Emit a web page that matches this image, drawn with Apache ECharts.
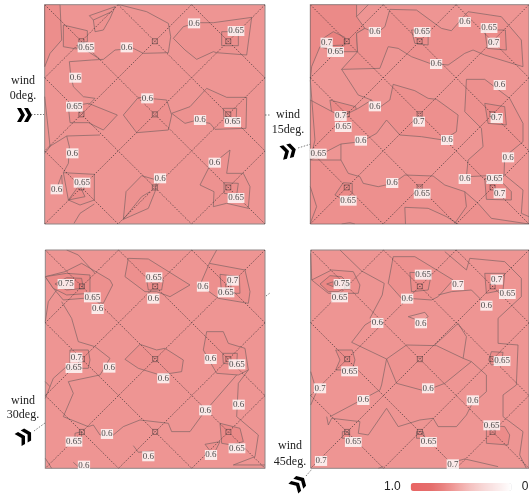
<!DOCTYPE html>
<html>
<head>
<meta charset="utf-8">
<style>html,body{margin:0;padding:0;background:#fff}#chart{width:529px;height:497px}</style>
<script src="https://cdn.jsdelivr.net/npm/echarts@6/dist/echarts.min.js"></script>
</head>
<body>
<div id="chart"></div>
<script>
// pressure coefficient contours, one panel per wind angle
// panel coordinates are read off the picture, y grows downwards
const colorStops = ['#ffffff', '#fcf0f0', '#f9e2e2', '#f7d4d3', '#f5c3c2', '#f2adab', '#ee9492', '#e87f7d', '#e56e6c', '#e7696a', '#ea6461']

const panelAExtent = [134, 795, 14, 672]
const panelBExtent = [136, 793, 14, 672]
const panelCExtent = [136, 795, 45, 700]
const panelDExtent = [137, 793, 45, 700]

// closed regions: [value, outline]
const panelAZones = [
  [0.63, [[134, 14], [180, 14], [185, 120], [150, 160], [134, 200]]],
  [0.61, [[268, 47], [345, 20], [330, 55], [310, 90], [285, 95], [280, 60]]],
  [0.63, [[190, 75], [262, 92], [262, 125], [235, 130], [230, 147], [190, 140]]],
  [0.61, [[520, 115], [550, 80], [590, 68], [640, 68], [755, 52], [740, 165], [650, 158], [640, 155], [590, 178], [555, 150]]],
  [0.63, [[665, 95], [715, 95], [715, 137], [665, 137]]],
  [0.62, [[205, 320], [265, 310], [352, 345], [310, 390], [265, 368], [210, 368]]],
  [0.62, [[370, 345], [415, 292], [500, 300], [515, 345], [505, 390], [410, 398]]],
  [0.61, [[515, 340], [570, 320], [620, 265], [680, 292], [740, 292], [738, 385], [645, 388], [630, 370], [585, 362], [555, 370]]],
  [0.63, [[670, 325], [710, 325], [708, 368], [672, 355]]],
  [0.61, [[690, 450], [680, 520], [730, 520], [750, 560], [745, 625], [680, 610], [640, 620], [642, 575], [600, 555], [628, 500]]],
  [0.63, [[672, 548], [715, 550], [710, 585], [672, 580]]],
  [0.61, [[425, 527], [470, 540], [465, 575], [445, 625], [370, 658], [378, 575]]],
  [0.61, [[190, 518], [283, 523], [283, 600], [240, 615], [205, 600]]],
  [0.64, [[205, 600], [238, 555], [255, 590]]]
]
const panelAContours = [
  [[280, 60], [335, 35]],
  [[358, 14], [440, 35], [505, 70], [512, 110], [505, 158], [430, 160], [400, 145], [345, 150], [310, 178], [275, 180], [208, 185], [212, 225], [220, 260], [250, 290], [285, 295], [265, 315]],
  [[235, 130], [250, 145], [300, 178]],
  [[148, 440], [200, 408], [300, 405]],
  [[200, 408], [208, 440], [205, 490], [190, 518]],
  [[134, 290], [148, 420], [150, 440], [134, 460]],
  [[172, 560], [185, 525], [188, 575]],
  [[222, 670], [240, 640], [283, 612]],
  [[370, 658], [425, 590], [450, 575]]
]
const panelALabels = [
  ['0.6', 582, 70], ['0.65', 708, 93], ['0.65', 258, 142], ['0.6', 380, 142], ['0.6', 226, 233],
  ['0.6', 442, 295], ['0.65', 223, 320], ['0.6', 600, 360], ['0.65', 698, 366], ['0.6', 217, 460],
  ['0.6', 644, 488], ['0.65', 246, 548], ['0.6', 480, 535], ['0.6', 170, 568], ['0.65', 708, 594]
]

const panelBZones = [
  [0.65, [[136, 14], [275, 14], [275, 50], [300, 85], [275, 100], [278, 155], [215, 155], [165, 140], [140, 200], [136, 240]]],
  [0.69, [[170, 118], [205, 95], [240, 112], [240, 135], [170, 138]]],
  [0.62, [[375, 28], [455, 30], [530, 85], [560, 92], [610, 35], [710, 50], [770, 120], [775, 200], [660, 165], [625, 150], [600, 160], [550, 195], [495, 190], [440, 170], [400, 145], [370, 140], [345, 205], [230, 208], [278, 155], [275, 100], [300, 85], [335, 100], [360, 80]]],
  [0.64, [[440, 90], [490, 90], [490, 135], [450, 130]]],
  [0.64, [[660, 90], [722, 90], [725, 150], [668, 145]]],
  [0.65, [[195, 300], [272, 320], [280, 350], [240, 385], [205, 375]]],
  [0.62, [[385, 253], [450, 272], [490, 295], [515, 298], [580, 345], [575, 395], [535, 420], [470, 410], [405, 405], [365, 360], [335, 400], [290, 425], [228, 432], [136, 480], [136, 300], [230, 350], [280, 325], [320, 300], [340, 325], [375, 300]]],
  [0.62, [[605, 238], [660, 238], [735, 295], [775, 370], [775, 425], [720, 470], [718, 525], [605, 530], [610, 480], [655, 440], [650, 385], [600, 335]]],
  [0.65, [[660, 310], [720, 320], [725, 375], [670, 370]]],
  [0.62, [[136, 480], [228, 480], [250, 520], [285, 530], [295, 550], [340, 560], [385, 550], [420, 525], [505, 528], [540, 555], [600, 575], [640, 610], [680, 655], [793, 672], [136, 672]]],
  [0.65, [[660, 535], [710, 545], [740, 575], [740, 600], [665, 598]]],
  [0.65, [[210, 585], [235, 548], [262, 550], [262, 580], [235, 600]]],
  [0.6, [[420, 622], [490, 625], [545, 650], [580, 672], [422, 672]]]
]
const panelBContours = [
  [[275, 50], [310, 14]],
  [[230, 208], [280, 285], [320, 300]],
  [[228, 432], [228, 480]],
  [[720, 525], [775, 570], [770, 640], [793, 650]],
  [[600, 575], [605, 620], [570, 670]],
  [[136, 560], [155, 620], [136, 670]],
  [[230, 672], [255, 668], [270, 672]],
  [[136, 240], [150, 420], [136, 480]]
]
const panelBLabels = [
  ['0.6', 330, 96], ['0.65', 472, 96], ['0.6', 600, 66], ['0.65', 673, 84], ['0.7', 687, 128], ['0.7', 185, 128],
  ['0.65', 212, 156], ['0.6', 514, 192], ['0.6', 705, 255], ['0.6', 330, 319], ['0.7', 227, 348], ['0.65', 235, 381],
  ['0.7', 696, 354], ['0.7', 462, 365], ['0.6', 288, 422], ['0.6', 547, 420], ['0.65', 160, 461], ['0.6', 730, 472],
  ['0.6', 600, 537], ['0.65', 690, 537], ['0.6', 382, 549], ['0.65', 472, 581], ['0.7', 705, 580], ['0.65', 250, 602]
]

const panelCZones = [
  [0.62, [[136, 125], [195, 110], [245, 85], [330, 135], [338, 150], [310, 205], [250, 190], [190, 195], [160, 160]]],
  [0.65, [[136, 125], [200, 115], [270, 120], [270, 175], [200, 180], [160, 160]]],
  [0.7, [[165, 147], [200, 128], [245, 130], [250, 160], [200, 165]]],
  [0.62, [[385, 70], [445, 72], [570, 150], [510, 185], [470, 170], [435, 170], [375, 125]]],
  [0.64, [[440, 135], [490, 135], [485, 165], [445, 165]]],
  [0.62, [[628, 85], [735, 105], [750, 170], [745, 205], [655, 190], [600, 150]]],
  [0.64, [[660, 118], [718, 125], [720, 175], [665, 175]]],
  [0.64, [[210, 345], [265, 345], [270, 375], [265, 400], [210, 400]]],
  [0.62, [[375, 373], [420, 328], [470, 345], [495, 340], [550, 375], [545, 410], [480, 420], [415, 400]]],
  [0.62, [[620, 290], [670, 290], [685, 325], [735, 340], [745, 405], [715, 420], [650, 415], [610, 345]]],
  [0.64, [[668, 355], [712, 355], [710, 390], [670, 385]]],
  [0.65, [[660, 565], [720, 580], [730, 620], [695, 630], [665, 625]]],
  [0.64, [[225, 595], [245, 590], [245, 615], [225, 615]]],
  [0.62, [[615, 628], [660, 620], [640, 660]]]
]
const panelCContours = [
  [[200, 45], [235, 60], [285, 115]],
  [[185, 200], [215, 250], [235, 320], [285, 335], [330, 370], [300, 420], [205, 440], [220, 475], [190, 545], [265, 575], [280, 570], [300, 600], [340, 600], [370, 575], [420, 555], [505, 565], [515, 590], [570, 590], [610, 535], [710, 420]],
  [[170, 165], [145, 200], [136, 260]],
  [[628, 85], [650, 45]],
  [[745, 405], [715, 445], [710, 545], [775, 600], [765, 665], [700, 690], [795, 690]],
  [[400, 632], [415, 652], [460, 648]],
  [[220, 682], [240, 700]],
  [[136, 670], [155, 700]],
  [[136, 490], [160, 430], [205, 390]],
  [[136, 440], [150, 455]]
]
const panelCLabels = [
  ['0.75', 198, 147], ['0.65', 277, 187], ['0.6', 293, 222], ['0.65', 462, 127], ['0.6', 460, 191], ['0.6', 609, 155],
  ['0.7', 698, 137], ['0.65', 678, 172], ['0.7', 229, 368], ['0.65', 222, 399], ['0.6', 328, 398], ['0.6', 632, 372],
  ['0.65', 711, 388], ['0.6', 490, 430], ['0.6', 716, 509], ['0.6', 616, 526], ['0.6', 321, 597], ['0.65', 222, 620],
  ['0.65', 711, 640], ['0.6', 445, 664], ['0.6', 633, 660], ['0.6', 252, 692]
]

const panelDZones = [
  [0.62, [[140, 135], [200, 105], [265, 110], [285, 150], [280, 175], [190, 175]]],
  [0.66, [[165, 147], [195, 122], [230, 125], [255, 150], [220, 170], [190, 170]]],
  [0.72, [[185, 147], [205, 140], [205, 155]]],
  [0.62, [[385, 65], [450, 65], [565, 135], [520, 185], [500, 195], [430, 190], [410, 190], [370, 145]]],
  [0.64, [[435, 112], [500, 115], [490, 165], [440, 170]]],
  [0.64, [[660, 115], [720, 115], [715, 165], [665, 175]]],
  [0.64, [[212, 345], [262, 345], [270, 375], [262, 405], [212, 405], [225, 375]]],
  [0.64, [[680, 350], [715, 352], [710, 385], [680, 390], [672, 375]]],
  [0.64, [[665, 570], [720, 575], [735, 600], [730, 630], [665, 625]]],
  [0.57, [[430, 245], [480, 232], [490, 245], [470, 260]]],
  [0.64, [[455, 590], [475, 590], [480, 610], [455, 610]]],
  [0.64, [[232, 590], [250, 590], [255, 610], [232, 610]]],
  [0.61, [[365, 372], [425, 330], [515, 332], [595, 370], [620, 380], [540, 445], [480, 468], [395, 445]]]
]
const panelDContours = [
  [[225, 45], [290, 108], [358, 145], [352, 180], [315, 250]],
  [[137, 55], [140, 135]],
  [[540, 50], [605, 105], [615, 70], [720, 80], [770, 130], [770, 185], [700, 250], [700, 325], [760, 330], [755, 450], [715, 480], [715, 545], [775, 590], [765, 660], [785, 700]],
  [[520, 180], [560, 170], [620, 165], [650, 195]],
  [[260, 322], [300, 270], [325, 255], [355, 265]],
  [[260, 322], [365, 372], [350, 450], [345, 465]],
  [[620, 380], [665, 420], [665, 470], [620, 510], [605, 540], [575, 575], [520, 575], [505, 550]],
  [[595, 370], [605, 305], [580, 265], [510, 330]],
  [[195, 545], [280, 500], [345, 465]],
  [[185, 545], [190, 570], [200, 550], [285, 560], [280, 595], [310, 600], [365, 520], [400, 575], [465, 555], [505, 550]],
  [[137, 410], [155, 470], [137, 510]],
  [[570, 680], [600, 672], [700, 695]],
  [[355, 695], [340, 700]]
]
const panelDLabels = [
  ['0.75', 231, 147], ['0.65', 224, 187], ['0.65', 475, 119], ['0.7', 579, 150], ['0.7', 696, 134], ['0.65', 728, 177],
  ['0.6', 427, 191], ['0.6', 665, 212], ['0.6', 337, 264], ['0.6', 468, 265], ['0.65', 712, 378], ['0.65', 254, 409],
  ['0.7', 165, 460], ['0.6', 490, 460], ['0.6', 295, 495], ['0.6', 624, 496], ['0.65', 681, 571], ['0.65', 265, 621],
  ['0.65', 491, 621], ['0.7', 168, 678], ['0.7', 564, 688]
]

// roof ridge lines as fractions of the panel side
const ridgeLines = [
  [[0, 0], [1, 1]], [[1 / 3, 0], [1, 2 / 3]], [[2 / 3, 0], [1, 1 / 3]], [[0, 1 / 3], [2 / 3, 1]], [[0, 2 / 3], [1 / 3, 1]],
  [[1, 0], [0, 1]], [[1 / 3, 0], [0, 1 / 3]], [[2 / 3, 0], [0, 2 / 3]], [[1, 1 / 3], [1 / 3, 1]], [[1, 2 / 3], [2 / 3, 1]]
]
const nodeFractions = [1 / 6, 1 / 2, 5 / 6]

const panels = [
  { extent: panelAExtent, zones: panelAZones, contours: panelAContours, labels: panelALabels, grid: { left: 44.7, top: 4.7, width: 220.3, height: 219.3 } },
  { extent: panelBExtent, zones: panelBZones, contours: panelBContours, labels: panelBLabels, grid: { left: 310.3, top: 4.7, width: 219, height: 219.3 } },
  { extent: panelCExtent, zones: panelCZones, contours: panelCContours, labels: panelCLabels, grid: { left: 45.3, top: 250, width: 219.7, height: 218.3 } },
  { extent: panelDExtent, zones: panelDZones, contours: panelDContours, labels: panelDLabels, grid: { left: 310.7, top: 250, width: 218.6, height: 218.3 } }
]

const LINE = '#806464'
const grids = []
const xAxes = []
const yAxes = []
const series = []
const zoneSeries = []

panels.forEach((panel, i) => {
  const [x0, x1, y0, y1] = panel.extent
  const toPanel = ([fx, fy]) => [x0 + fx * (x1 - x0), y0 + fy * (y1 - y0)]
  grids.push({ ...panel.grid, show: true, backgroundColor: '#ee9593', borderColor: '#8f8585', borderWidth: 1 })
  xAxes.push({ gridIndex: i, type: 'value', min: x0, max: x1, show: false })
  yAxes.push({ gridIndex: i, type: 'value', min: y0, max: y1, inverse: true, show: false })

  const base = { xAxisIndex: i, yAxisIndex: i, silent: true, animation: false }
  zoneSeries.push(series.length)
  series.push({
    ...base,
    type: 'custom',
    z: 2,
    clip: true,
    data: panel.zones.map((zone, idx) => [zone[0], idx]),
    renderItem: (params, api) => ({
      type: 'polygon',
      shape: { points: panel.zones[params.dataIndex][1].map((p) => api.coord(p)) },
      style: { fill: api.visual('color'), stroke: LINE, lineWidth: 0.7 }
    })
  })
  series.push({
    ...base,
    type: 'lines',
    coordinateSystem: 'cartesian2d',
    polyline: true,
    z: 3,
    lineStyle: { color: LINE, width: 0.7, opacity: 1 },
    data: panel.contours.map((coords) => ({ coords }))
  })
  series.push({
    ...base,
    type: 'lines',
    coordinateSystem: 'cartesian2d',
    z: 4,
    lineStyle: { color: '#45363a', width: 0.7, type: [1.5, 1.5], opacity: 1 },
    data: ridgeLines.map((seg) => ({ coords: seg.map(toPanel) }))
  })
  const nodes = []
  nodeFractions.forEach((fy) => nodeFractions.forEach((fx) => nodes.push(toPanel([fx, fy]))))
  series.push({
    ...base,
    type: 'scatter',
    symbol: 'rect',
    symbolSize: 5,
    z: 5,
    itemStyle: { color: 'rgba(0,0,0,0)', borderColor: '#4a3c3c', borderWidth: 0.7 },
    data: nodes
  })
  series.push({
    ...base,
    type: 'scatter',
    symbolSize: 1,
    z: 6,
    itemStyle: { color: 'rgba(0,0,0,0)' },
    label: {
      show: true,
      position: 'inside',
      formatter: (p) => p.data[2],
      fontFamily: 'Liberation Serif',
      fontSize: 9,
      color: '#222',
      backgroundColor: '#fff',
      padding: [1, 0.5, 0, 0.5]
    },
    data: panel.labels.map((l) => [l[1], l[2], l[0]])
  })
})

// wind annotations, in page pixels
const windText = (text, x, y) => ({
  type: 'text', x, y, silent: true,
  style: { text, fontFamily: 'Liberation Serif', fontSize: 12, fill: '#222', align: 'center', verticalAlign: 'middle' }
})
const chevrons = (x, y, deg) => ({
  type: 'group', x, y, rotation: deg * Math.PI / 180, silent: true,
  children: [-5, 2].map((dx) => ({
    type: 'polygon',
    shape: { points: [[dx - 3, -7], [dx + 1, -7], [dx + 5, 0], [dx + 1, 7], [dx - 3, 7], [dx + 1, 0]] },
    style: { fill: '#000' }
  }))
})
const dots = (x1, y1, x2, y2) => ({
  type: 'line', silent: true,
  shape: { x1, y1, x2, y2 },
  style: { stroke: '#444', lineWidth: 0.7, lineDash: [1.5, 1.5] }
})
const windGraphics = [
  windText('wind', 23, 81), windText('0deg.', 23, 96), chevrons(25, 115, 0), dots(31, 114.5, 44, 114.5), dots(265, 115, 270, 115),
  windText('wind', 288, 115), windText('15deg.', 288, 130), chevrons(289, 151, 15), dots(298, 148, 311, 144),
  windText('wind', 23, 401), windText('30deg.', 23, 415), chevrons(25, 436, 30), dots(34, 431, 45, 423), dots(266, 296, 270, 293),
  windText('wind', 290, 446), windText('45deg.', 290, 462), chevrons(299, 483, 45), dots(306, 476, 312, 469)
]

const chart = echarts.init(document.getElementById('chart'), null, { renderer: 'canvas' })
chart.setOption({
  animation: false,
  backgroundColor: '#fff',
  grid: grids,
  xAxis: xAxes,
  yAxis: yAxes,
  visualMap: {
    type: 'continuous',
    seriesIndex: zoneSeries,
    dimension: 0,
    min: 0,
    max: 1,
    inverse: true,
    orient: 'horizontal',
    left: 384,
    bottom: 4,
    padding: 0,
    itemWidth: 8,
    itemHeight: 101,
    itemGap: 8,
    calculable: false,
    hoverLink: false,
    text: ['1.0', '0'],
    textStyle: { fontFamily: 'Liberation Sans', fontSize: 12, color: '#222' },
    inRange: { color: colorStops }
  },
  graphic: windGraphics,
  series
})
</script>
</body>
</html>
